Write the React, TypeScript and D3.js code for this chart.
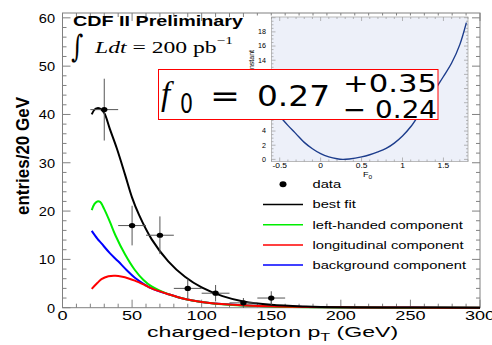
import React from 'react';
import * as d3 from 'd3';

// data points
const dataX = [30, 50, 70, 90, 110, 130, 150];
const dataY = [41, 17, 15, 4, 3, 1, 2];
const dataErr = [6.4, 4.1, 3.9, 2.0, 1.7, 1.0, 1.4];
const binHalf = 10;

// best fit
const fitX = [21, 23, 25, 27, 30, 34, 39, 45, 50, 55, 64, 76, 88, 100, 115, 130, 150, 175, 200, 250, 300];
const fitY = [40.0, 41.0, 41.3, 41.2, 40.3, 37.0, 33.0, 27.5, 22.8, 19.2, 14.2, 9.6, 6.4, 4.2, 2.4, 1.3, 0.6, 0.25, 0.1, 0.03, 0.01];
// left-handed component
const leftX = [21, 23, 25, 27, 30, 34, 38, 45, 52, 58, 64, 76, 88, 100, 120, 150, 200, 250, 300];
const leftY = [20.2, 21.5, 22.0, 21.9, 20.4, 17.8, 15.0, 11.0, 7.8, 5.8, 4.4, 2.8, 1.8, 1.2, 0.6, 0.25, 0.05, 0.01, 0];
// longitudinal component
const longX = [21, 25, 28, 33, 38, 43, 47, 52, 59, 64, 76, 88, 100, 120, 150, 200, 250, 300];
const longY = [3.9, 5.1, 5.9, 6.5, 6.6, 6.4, 6.1, 5.6, 4.7, 4.0, 2.8, 1.8, 1.2, 0.65, 0.28, 0.07, 0.02, 0];
// background component
const bkgX = [21, 25, 28, 34, 40, 46, 52, 59, 64, 76, 88, 100, 120, 150, 200, 250, 300];
const bkgY = [15.9, 14.3, 13.3, 11.3, 9.6, 7.8, 6.2, 4.8, 4.0, 2.8, 1.8, 1.2, 0.65, 0.28, 0.07, 0.02, 0];

// inset likelihood scan
const scanX = [-0.6, -0.5, -0.4, -0.3, -0.2, -0.1, 0, 0.1, 0.2, 0.27, 0.35, 0.5, 0.6, 0.7, 0.8, 0.9, 1.0, 1.1, 1.2, 1.3, 1.4, 1.5, 1.6, 1.7, 1.78];
const scanY = [7.4, 6.1, 4.8, 3.6, 2.4, 1.5, 0.8, 0.35, 0.08, 0.0, 0.06, 0.35, 0.65, 1.05, 1.55, 2.3, 3.3, 4.6, 6.3, 8.1, 9.9, 11.7, 13.6, 16.2, 19.3];

const xTickLabels = [0, 50, 100, 150, 200, 250, 300];
const yTickLabels = [0, 10, 20, 30, 40, 50, 60];
const insetXTicks = [-0.5, 0, 0.5, 1, 1.5];
// 6..12 sit behind the result box in the picture
const insetYTicks = [0, 2, 4, 14, 16, 18];

const legendItems = [
  { label: 'data', color: '#000', kind: 'dot' },
  { label: 'best fit', color: '#000', kind: 'line' },
  { label: 'left-handed component', color: '#00ee00', kind: 'line' },
  { label: 'longitudinal component', color: '#ff0000', kind: 'line' },
  { label: 'background component', color: '#0000ff', kind: 'line' },
];

const width = 492;
const height = 345;
const sans = 'Liberation Sans, Arial, sans-serif';
const serif = 'Liberation Serif, Times New Roman, serif';
const frameCol = '#808080';

// stretched text (picture is wide)
const T = ({ x, y, sx = 1, anchor = 'start', size, weight = 'normal', family = sans, italic = false, fill = '#000', children }: any) => (
  <text transform={`translate(${x},${y}) scale(${sx},1)`} textAnchor={anchor} fontSize={size}
    fontWeight={weight} fontFamily={family} fontStyle={italic ? 'italic' : 'normal'} fill={fill}>{children}</text>
);

const App: React.FC = () => {
  const xS = d3.scaleLinear().domain([0, 300]).range([62.5, 480]);
  const yS = d3.scaleLinear().domain([0, 61]).range([307.7, 13]);
  const ixS = d3.scaleLinear().domain([-0.6, 1.8]).range([271.5, 468]);
  const iyS = d3.scaleLinear().domain([-0.3, 20.1]).range([161.5, 17]);

  const mk = (xs: number[], ys: number[]) =>
    d3.line<number>().x((d, i) => xS(xs[i])).y((d) => yS(d)).curve(d3.curveCatmullRom.alpha(0.5))(ys) || '';
  const scanPath = d3.line<number>().x((d, i) => ixS(scanX[i])).y((d) => iyS(d)).curve(d3.curveCatmullRom.alpha(0.5))(scanY) || '';

  const [x0, x1] = xS.range();
  const [y0, y1] = yS.range();
  const [ix0, ix1] = ixS.range();
  const [iy0, iy1] = iyS.range();

  return (
    <div style={{ position: 'absolute', left: 0, top: 0 }}>
      <svg width={width} height={height} style={{ display: 'block', background: '#fff' }}>
        {/* main frame */}
        <rect x={x0} y={y1} width={x1 - x0} height={y0 - y1} fill="none" stroke={frameCol} strokeWidth={1} />
        {d3.range(0, 301, 10).map((v) => {
          const big = v % 50 === 0;
          const L = big ? 8 : 4;
          return (
            <g key={'xt' + v} stroke={frameCol}>
              <line x1={xS(v)} x2={xS(v)} y1={y0} y2={y0 - L} />
              <line x1={xS(v)} x2={xS(v)} y1={y1} y2={y1 + L} />
            </g>
          );
        })}
        {d3.range(0, 61, 2).map((v) => {
          const big = v % 10 === 0;
          const L = big ? 8 : 4;
          return (
            <g key={'yt' + v} stroke={frameCol}>
              <line x1={x0} x2={x0 + L} y1={yS(v)} y2={yS(v)} />
              <line x1={x1} x2={x1 - L} y1={yS(v)} y2={yS(v)} />
            </g>
          );
        })}
        {xTickLabels.map((v) => (
          <T key={'xl' + v} x={xS(v)} y={320} sx={1.45} anchor="middle" size={12.5}>{v}</T>
        ))}
        {yTickLabels.map((v) => (
          <T key={'yl' + v} x={55} y={yS(v) + 4.8} sx={1.08} anchor="end" size={13.5}>{v}</T>
        ))}

        {/* axis titles */}
        <text transform="translate(29,156) rotate(-90) scale(1,1.12)" textAnchor="middle" fontSize={17}
          fontWeight="bold" fontFamily={sans}>entries/20 GeV</text>
        <text transform="translate(147,337) scale(1.54,1)" fontSize={15} fontFamily={sans}>
          charged-lepton p<tspan fontSize={10.5} dy={4}>T</tspan><tspan dy={-4}> (GeV)</tspan>
        </text>

        {/* curves */}
        <path d={mk(bkgX, bkgY)} fill="none" stroke="#0000ff" strokeWidth={2} />
        <path d={mk(leftX, leftY)} fill="none" stroke="#00ee00" strokeWidth={2} />
        <path d={mk(longX, longY)} fill="none" stroke="#ff0000" strokeWidth={2} />
        <path d={mk(fitX, fitY)} fill="none" stroke="#000" strokeWidth={2} />

        {/* data */}
        {dataX.map((xv, i) => (
          <g key={'d' + i}>
            <line x1={xS(xv - binHalf)} x2={xS(xv + binHalf)} y1={yS(dataY[i])} y2={yS(dataY[i])} stroke="#555" strokeWidth={1} />
            <line x1={xS(xv)} x2={xS(xv)} y1={yS(dataY[i] - dataErr[i])} y2={yS(dataY[i] + dataErr[i])} stroke="#555" strokeWidth={1} />
            <ellipse cx={xS(xv)} cy={yS(dataY[i])} rx={3.2} ry={2.6} fill="#000" />
          </g>
        ))}

        {/* title */}
        <T x={73} y={26} sx={1.41} size={14} weight="bold">CDF II Preliminary</T>
        <text transform="translate(71,57) scale(0.75,1)" fontSize={31} fontFamily="DejaVu Serif, serif">∫</text>
        <text transform="translate(95,53) scale(1.39,1)" fontSize={17} fontFamily={serif}>
          <tspan fontStyle="italic">Ldt</tspan> = 200 pb<tspan fontSize={11} dy={-9}>−1</tspan>
        </text>

        {/* inset */}
        <rect x={247} y={15.5} width={222} height={163} fill="#fff" />
        <rect x={ix0} y={iy1} width={ix1 - ix0} height={iy0 - iy1} fill="#edf0f9" stroke="#aaa" strokeWidth={0.8} />
        {d3.range(-0.6, 1.81, 0.1).map((v) => {
          const r = Math.round(v * 10) / 10;
          const big = Math.abs(r * 2 - Math.round(r * 2)) < 1e-6;
          const L = big ? 4 : 2;
          return (
            <g key={'ixt' + r} stroke="#999" strokeWidth={0.7}>
              <line x1={ixS(r)} x2={ixS(r)} y1={iy0} y2={iy0 - L} />
              <line x1={ixS(r)} x2={ixS(r)} y1={iy1} y2={iy1 + L} />
            </g>
          );
        })}
        {d3.range(0, 20.1, 0.5).map((v) => {
          const big = v % 2 === 0;
          const L = big ? 4 : 2;
          return (
            <g key={'iyt' + v} stroke="#999" strokeWidth={0.7}>
              <line x1={ix0} x2={ix0 + L} y1={iyS(v)} y2={iyS(v)} />
              <line x1={ix1} x2={ix1 - L} y1={iyS(v)} y2={iyS(v)} />
            </g>
          );
        })}
        {insetXTicks.map((v) => (
          <T key={'ixl' + v} x={ixS(v)} y={168} sx={1.3} anchor="middle" size={6.5}>{v}</T>
        ))}
        {insetYTicks.map((v) => (
          <T key={'iyl' + v} x={266} y={iyS(v) + 2.3} sx={1.1} anchor="end" size={6.5}>{v}</T>
        ))}
        <text transform="translate(363,177) scale(1.3,1)" fontSize={7} fontFamily={sans}>
          F<tspan fontSize={5} dy={1.5}>0</tspan>
        </text>
        <text transform="translate(254,50) rotate(-90)" textAnchor="end" fontSize={7} fontFamily={sans}>−2ln(L) + constant</text>
        <path d={scanPath} fill="none" stroke="#1c3c8c" strokeWidth={1.4} />

        {/* result box */}
        <rect x={158.5} y={69.5} width={279.5} height={50} fill="#fff" stroke="#ff0000" strokeWidth={1} />
        <text x={161} y={105} fontSize={33} fontFamily={serif} fontStyle="italic">f</text>
        <text x={180} y={113} fontSize={27} fontFamily="DejaVu Sans, sans-serif" textLength={13} lengthAdjust="spacingAndGlyphs">0</text>
        <text x={210} y={106} fontSize={30} fontFamily="DejaVu Sans, sans-serif" textLength={30} lengthAdjust="spacingAndGlyphs">=</text>
        <text x={257} y={106} fontSize={29} fontFamily="DejaVu Sans, sans-serif" textLength={73} lengthAdjust="spacingAndGlyphs">0.27</text>
        <text x={343} y={91.5} fontSize={25} fontFamily="DejaVu Sans, sans-serif" textLength={94} lengthAdjust="spacingAndGlyphs">+0.35</text>
        <text x={343} y={118} fontSize={25} fontFamily="DejaVu Sans, sans-serif" textLength={94} lengthAdjust="spacingAndGlyphs">− 0.24</text>

        {/* legend */}
        {legendItems.map((it, i) => {
          const cy = 184.3 + i * 20.2;
          return (
            <g key={it.label}>
              {it.kind === 'dot'
                ? <ellipse cx={283} cy={cy} rx={3.5} ry={3} fill={it.color} />
                : <line x1={263} x2={303} y1={cy} y2={cy} stroke={it.color} strokeWidth={1.5} />}
              <T x={312.5} y={cy + 3.8} sx={1.4} size={10.5}>{it.label}</T>
            </g>
          );
        })}
      </svg>
    </div>
  );
};

export default App;
